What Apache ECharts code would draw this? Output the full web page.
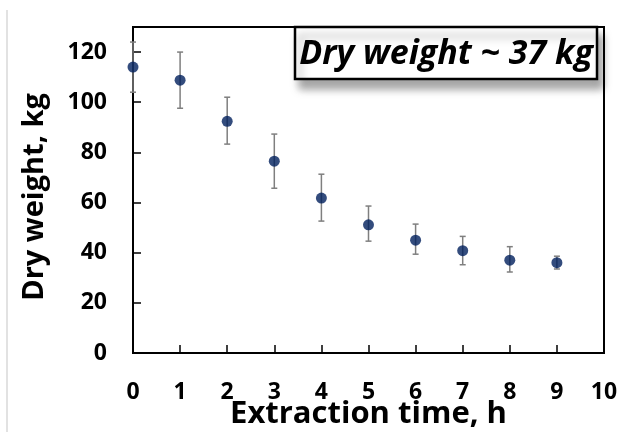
<!DOCTYPE html>
<html>
<head>
<meta charset="utf-8">
<script src="https://cdn.jsdelivr.net/npm/echarts@6/dist/echarts.min.js"></script>
<style>
  html, body { margin: 0; padding: 0; background: #fff; }
  #main { width: 621px; height: 432px; }
</style>
</head>
<body>
<div id="main"></div>
<script>
// extraction time (h) and measured dry weight (kg)
var hours = [0, 1, 2, 3, 4, 5, 6, 7, 8, 9];
var weight = [114, 108.8, 92.4, 76.5, 61.8, 51.1, 45, 40.8, 37, 36];
var errLow = [104, 97.6, 83.3, 65.7, 52.6, 44.6, 39.4, 35.2, 32.3, 33.5];
var errHigh = [124, 120, 102, 87.3, 71.3, 58.6, 51.4, 46.5, 42.4, 38.6];
var yTicks = [0, 20, 40, 60, 80, 100, 120];
var xTicks = [0, 1, 2, 3, 4, 5, 6, 7, 8, 9, 10];

var font = 'Open Sans';

var points = hours.map(function (h, i) { return [h, weight[i]]; });
var bars = hours.map(function (h, i) { return [h, errLow[i], errHigh[i]]; });

var myChart = echarts.init(document.getElementById('main'));
var option = {
    animation: false,
    grid: {
        left: 133,
        right: 17,
        top: 27,
        bottom: 79,
        outerBoundsMode: 'none',
        containLabel: false,
        show: true,
        borderColor: '#000',
        borderWidth: 2
    },
    xAxis: {
        type: 'value',
        min: 0,
        max: 10,
        interval: 1,
        name: 'Extraction time, h',
        nameLocation: 'middle',
        nameGap: 46,
        nameMoveOverlap: false,
        nameTextStyle: { fontFamily: font, fontWeight: 'bold', fontSize: 31, color: '#000' },
        axisLine: { lineStyle: { color: '#000', width: 2 } },
        axisTick: { inside: true, length: 8, lineStyle: { color: '#000', width: 1.5 } },
        axisLabel: {
            margin: 28,
            fontFamily: font, fontWeight: 'bold', fontSize: 23, color: '#000',
            formatter: function (v) { return xTicks.indexOf(v) >= 0 ? String(v) : ''; }
        },
        splitLine: { show: false }
    },
    yAxis: {
        type: 'value',
        min: 0,
        max: 130,
        interval: 20,
        name: 'Dry weight, kg',
        nameLocation: 'middle',
        nameGap: 84,
        nameMoveOverlap: false,
        nameTextStyle: { fontFamily: font, fontWeight: 'bold', fontSize: 29, color: '#000', padding: [0, 14, 0, 0] },
        axisLine: { lineStyle: { color: '#000', width: 2 } },
        axisTick: { inside: true, length: 8, lineStyle: { color: '#000', width: 1.5 } },
        axisLabel: {
            margin: 26,
            fontFamily: font, fontWeight: 'bold', fontSize: 23, color: '#000',
            formatter: function (v) { return yTicks.indexOf(v) >= 0 ? String(v) : ''; }
        },
        splitLine: { show: false }
    },
    graphic: [
        {
            type: 'line',
            shape: { x1: 7, y1: 10, x2: 7, y2: 432 },
            style: { stroke: '#d9d9d9', lineWidth: 1.5 }
        },
        {
            type: 'rect',
            shape: { x: 295, y: 27, width: 302, height: 52 },
            style: {
                fill: '#fff', stroke: '#000', lineWidth: 2.5,
                shadowBlur: 8, shadowOffsetX: 5, shadowOffsetY: 9,
                shadowColor: 'rgba(0,0,0,0.35)'
            },
            z: 10
        },
        {
            type: 'text',
            x: 446,
            y: 54,
            style: {
                text: 'Dry weight ~ 37 kg',
                fontFamily: font, fontWeight: 'bold', fontStyle: 'italic', fontSize: 34,
                fill: '#000', align: 'center', verticalAlign: 'middle'
            },
            z: 11
        }
    ],
    series: [
        {
            type: 'custom',
            data: bars,
            z: 3,
            renderItem: function (params, api) {
                var x = api.value(0);
                var lo = api.coord([x, api.value(1)]);
                var hi = api.coord([x, api.value(2)]);
                var cap = 3;
                var st = { stroke: '#7f7f7f', lineWidth: 1.5 };
                return {
                    type: 'group',
                    children: [
                        { type: 'line', shape: { x1: lo[0], y1: lo[1], x2: hi[0], y2: hi[1] }, style: st },
                        { type: 'line', shape: { x1: lo[0] - cap, y1: lo[1], x2: lo[0] + cap, y2: lo[1] }, style: st },
                        { type: 'line', shape: { x1: hi[0] - cap, y1: hi[1], x2: hi[0] + cap, y2: hi[1] }, style: st }
                    ]
                };
            }
        },
        {
            type: 'scatter',
            data: points,
            z: 4,
            symbol: 'circle',
            symbolSize: 11,
            itemStyle: { color: '#001f5c' }
        }
    ]
};
myChart.setOption(option);
</script>
</body>
</html>
